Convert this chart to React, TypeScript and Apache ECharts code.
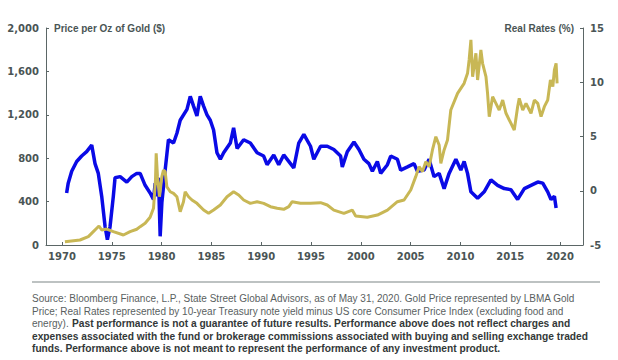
import React, { useEffect, useRef } from "react";
import * as echarts from "echarts";

// Gold price ($/oz), [year, value]
const goldYears = [1970.3, 1971.81, 1972.65, 1973.15, 1973.49, 1973.72, 1973.99, 1974.5, 1975.16, 1976.17, 1976.84, 1977.51, 1977.85, 1978.35, 1978.85, 1979.19, 1979.39, 1979.46, 1979.59, 1979.79, 1980.03, 1980.19, 1980.36, 1980.53, 1980.87, 1981.2, 1981.54, 1981.87, 1982.2, 1982.37, 1982.71, 1983.05, 1983.55, 1984.22, 1984.72, 1985.22, 1985.9, 1986.57, 1987.23, 1987.74, 1988.24, 1988.91, 1989.59, 1990.25, 1990.93, 1991.6, 1992.26, 1992.77, 1993.11, 1993.94, 1994.95, 1995.96, 1996.63, 1997.29, 1998.3, 1999.14, 1999.48, 2000.65, 2001.66, 2002.67, 2003.67, 2004.34, 2005.01, 2005.51, 2005.85, 2006.19, 2006.52, 2006.86, 2007.19, 2007.53, 2007.86, 2008.03, 2008.36, 2008.7, 2009.03, 2009.71, 2010.37, 2010.71, 2010.87, 2011.05, 2011.22, 2011.55, 2011.72, 2012.05, 2012.22, 2012.56, 2012.72, 2012.89, 2013.23, 2013.56, 2013.89, 2014.24, 2014.57, 2014.9, 2015.24, 2015.4, 2015.74, 2015.9, 2016.25, 2016.58, 2017.08, 2017.42, 2017.76, 2018.09, 2018.42, 2018.76, 2019.03, 2019.27, 2019.43, 2019.6, 2019.7];
const goldValues = [30, 46, 77, 123, 154, 175, 138, 147, 123, 92, 123, 145, 169, 200, 255, 338, 599, 845, 630, 445, 630, 691, 676, 537, 491, 476, 445, 307, 399, 491, 445, 415, 384, 322, 292, 322, 369, 445, 491, 461, 415, 384, 399, 384, 353, 338, 329, 353, 399, 384, 384, 390, 369, 322, 292, 322, 267, 255, 276, 322, 399, 415, 507, 630, 722, 676, 768, 722, 876, 998, 922, 753, 876, 968, 1244, 1398, 1490, 1582, 1705, 1890, 1551, 1767, 1521, 1797, 1675, 1551, 1398, 1183, 1367, 1306, 1244, 1336, 1214, 1152, 1090, 1060, 1275, 1352, 1244, 1306, 1214, 1336, 1306, 1183, 1275, 1336, 1521, 1460, 1613, 1675, 1490];

// Real rates (%), [year, value]
const rateYears = [1970.47, 1970.63, 1970.98, 1971.48, 1971.98, 1972.48, 1972.99, 1973.32, 1973.65, 1973.99, 1974.33, 1974.56, 1974.83, 1975.16, 1975.33, 1975.84, 1976.51, 1977.01, 1977.51, 1977.85, 1978.35, 1978.85, 1979.19, 1979.36, 1979.53, 1979.69, 1979.86, 1980.03, 1980.36, 1980.69, 1981.2, 1981.54, 1981.87, 1982.55, 1982.88, 1983.21, 1983.55, 1983.88, 1984.22, 1984.56, 1984.89, 1985.22, 1985.56, 1985.9, 1986.23, 1986.9, 1987.23, 1987.58, 1988.24, 1988.91, 1989.59, 1990.25, 1990.59, 1991.26, 1991.76, 1992.26, 1992.94, 1993.27, 1993.77, 1994.28, 1994.95, 1995.28, 1995.96, 1996.63, 1997.29, 1997.97, 1998.14, 1998.64, 1999.31, 1999.81, 2000.31, 2000.81, 2001.16, 2001.66, 2001.99, 2002.67, 2003.0, 2003.67, 2004.0, 2004.68, 2005.34, 2005.68, 2006.35, 2006.85, 2007.35, 2007.86, 2008.36, 2008.86, 2009.54, 2010.04, 2010.37, 2010.71, 2011.05, 2011.72, 2012.38, 2013.06, 2013.73, 2014.4, 2015.07, 2015.74, 2016.41, 2017.08, 2017.76, 2018.26, 2018.76, 2019.09, 2019.43, 2019.6];
const rateValues = [-0.2, 0.7, 1.8, 2.7, 3.2, 3.6, 4.2, 2.5, 1.6, -0.5, -3.3, -4.5, -3.3, -0.5, 1.2, 1.3, 0.8, 1.3, 1.6, 1.6, 0.5, -0.2, -0.8, 0.7, -0.5, 1.2, -4.2, -1.1, 1.9, 4.7, 4.4, 5.3, 6.5, 7.5, 8.7, 7.8, 6.9, 8.7, 7.8, 7.0, 6.5, 5.6, 3.5, 2.9, 3.5, 4.4, 5.8, 3.9, 4.7, 4.4, 3.5, 3.2, 2.4, 3.3, 2.4, 3.3, 2.5, 2.1, 4.4, 5.2, 4.1, 2.9, 4.1, 4.1, 3.8, 3.2, 2.2, 3.6, 4.5, 3.8, 2.9, 2.5, 1.8, 2.7, 1.6, 2.4, 3.2, 2.9, 1.9, 2.2, 2.5, 1.8, 1.9, 2.9, 1.3, 1.6, 0.2, 1.6, 2.9, 1.9, 2.7, 1.6, -0.1, -0.7, -0.1, 1.0, 0.5, 0.2, 0.1, -0.8, 0.2, 0.5, 0.8, 0.7, -0.1, -0.8, -0.5, -1.6];

const yearTicks = [1970, 1975, 1980, 1985, 1990, 1995, 2000, 2005, 2010, 2015, 2020];

const leftTitle = "Price per Oz of Gold ($)";
const rightTitle = "Real Rates (%)";
const footerLines = [
  "Source: Bloomberg Finance, L.P., State Street Global Advisors, as of May 31, 2020. Gold Price represented by LBMA Gold",
  "Price; Real Rates represented by 10-year Treasury note yield minus US core Consumer Price Index (excluding food and",
];
const footerMixedRegular = "energy).";
const footerMixedBold = "Past performance is not a guarantee of future results. Performance above does not reflect charges and";
const footerBoldLines = [
  "expenses associated with the fund or brokerage commissions associated with buying and selling exchange traded",
  "funds. Performance above is not meant to represent the performance of any investment product.",
];

const AXIS_COLOR = "#5b6666";
const LABEL_COLOR = "#4a5555";
const LABEL_FONT = "DejaVu Sans";

export default function App() {
  const ref = useRef<HTMLDivElement>(null);
  useEffect(() => {
    if (!ref.current) return;
    const chart = echarts.init(ref.current, undefined, { renderer: "svg" });
    const gold = goldYears.map((y, i) => [y, goldValues[i]]);
    const rates = rateYears.map((y, i) => [y, rateValues[i]]);
    const regFont = "10px 'Liberation Sans'";
    const boldFont = "bold 10.2px 'Liberation Sans'";
    const fy = [298, 311, 323, 336, 348];
    chart.setOption({
      animation: false,
      backgroundColor: "#ffffff",
      grid: { left: 46, right: 35, top: 28, bottom: 115 },
      xAxis: {
        type: "value",
        min: 1968.4,
        max: 2022.3,
        axisLine: { show: true, lineStyle: { color: AXIS_COLOR, width: 1 } },
        axisTick: { show: true, inside: true, length: 3, customValues: yearTicks, lineStyle: { color: AXIS_COLOR } },
        axisLabel: {
          customValues: yearTicks,
          formatter: (v: number) => String(Math.round(v)),
          color: LABEL_COLOR,
          fontFamily: LABEL_FONT,
          fontWeight: "bold",
          fontSize: 10,
          margin: 6,
        },
        splitLine: { show: false },
      },
      yAxis: [
        {
          type: "value",
          min: 0,
          max: 2000,
          interval: 400,
          position: "left",
          axisLine: { show: true, lineStyle: { color: AXIS_COLOR, width: 1 } },
          axisTick: { show: true, inside: true, length: 3, lineStyle: { color: AXIS_COLOR } },
          axisLabel: {
            formatter: (v: number) => v.toLocaleString("en-US"),
            color: LABEL_COLOR,
            fontFamily: LABEL_FONT,
            fontWeight: "bold",
            fontSize: 10,
            margin: 7,
          },
          splitLine: { show: false },
        },
        {
          type: "value",
          min: -5,
          max: 15,
          interval: 5,
          position: "right",
          axisLine: { show: true, lineStyle: { color: AXIS_COLOR, width: 1 } },
          axisTick: { show: true, inside: true, length: 3, lineStyle: { color: AXIS_COLOR } },
          axisLabel: {
            formatter: (v: number) => (v < 0 ? "-" + Math.abs(v) : String(v)),
            color: LABEL_COLOR,
            fontFamily: LABEL_FONT,
            fontWeight: "bold",
            fontSize: 10,
            margin: 7,
          },
          splitLine: { show: false },
        },
      ],
      series: [
        {
          type: "line",
          yAxisIndex: 1,
          data: rates,
          showSymbol: false,
          lineStyle: { color: "#0a0ae6", width: 3.5 },
          z: 2,
        },
        {
          type: "line",
          yAxisIndex: 0,
          data: gold,
          showSymbol: false,
          lineStyle: { color: "#c8b755", width: 3 },
          z: 3,
        },
      ],
      graphic: [
        {
          type: "text",
          x: 54,
          y: 28,
          style: { text: leftTitle, font: "bold 10px 'Liberation Sans'", fill: LABEL_COLOR, textVerticalAlign: "middle", textAlign: "left" },
        },
        {
          type: "text",
          x: 574,
          y: 28,
          style: { text: rightTitle, font: "bold 10px 'Liberation Sans'", fill: LABEL_COLOR, textVerticalAlign: "middle", textAlign: "right" },
        },
        {
          type: "line",
          shape: { x1: 32, y1: 282, x2: 600, y2: 282 },
          style: { stroke: "#7d8585", lineWidth: 1.2 },
        },
        ...footerLines.map((t, i) => ({
          type: "text",
          x: 32,
          y: fy[i],
          style: { text: t, font: regFont, fill: "#5a5f5f", textVerticalAlign: "middle" },
        })),
        {
          type: "text",
          x: 32,
          y: fy[2],
          style: {
            text: "{r|" + footerMixedRegular + "} {b|" + footerMixedBold + "}",
            textVerticalAlign: "middle",
            rich: {
              r: { font: regFont, fill: "#5a5f5f" },
              b: { font: boldFont, fill: "#333838" },
            },
          },
        },
        ...footerBoldLines.map((t, i) => ({
          type: "text",
          x: 32,
          y: fy[3 + i],
          style: { text: t, font: boldFont, fill: "#333838", textVerticalAlign: "middle" },
        })),
      ],
    });
    return () => chart.dispose();
  }, []);
  return (
    <div
      ref={ref}
      style={{ position: "fixed", left: 0, top: 0, width: 618, height: 360 }}
    />
  );
}
